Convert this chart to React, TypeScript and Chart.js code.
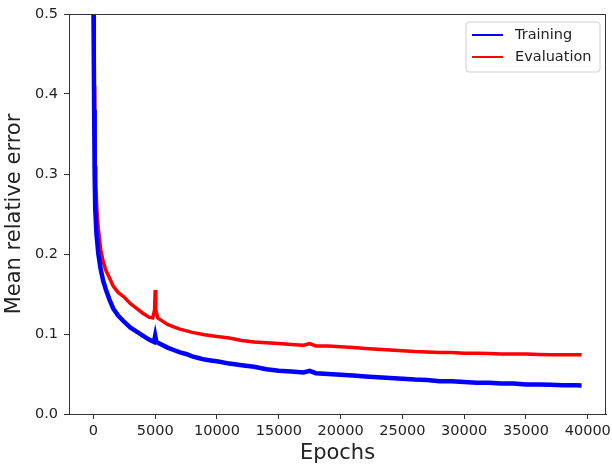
import React, { useEffect, useRef } from "react";
import { Chart, registerables } from "chart.js";

Chart.register(...registerables);

const trainEpochs = [0, 30, 60, 100, 150, 250, 400, 600, 800, 1000, 1300, 1600, 2000, 2500, 3000, 3500, 4000, 4500, 4900, 5000, 5100, 5500, 6000, 6500, 7000, 7500, 8000, 8500, 9000, 9500, 10000, 11000, 12000, 13000, 14000, 15000, 16000, 17000, 17500, 18000, 19000, 20000, 21000, 22000, 23000, 24000, 25000, 26000, 27000, 28000, 29000, 30000, 31000, 32000, 33000, 34000, 35000, 36000, 37000, 38000, 39000, 39500];
const trainValues = [0.52, 0.45, 0.38, 0.3, 0.255, 0.225, 0.2, 0.18, 0.166, 0.156, 0.143, 0.132, 0.123, 0.115, 0.108, 0.103, 0.098, 0.093, 0.09, 0.098, 0.09, 0.087, 0.083, 0.08, 0.077, 0.075, 0.072, 0.07, 0.068, 0.067, 0.066, 0.063, 0.061, 0.059, 0.056, 0.054, 0.053, 0.052, 0.054, 0.051, 0.05, 0.049, 0.048, 0.047, 0.046, 0.045, 0.044, 0.043, 0.0425, 0.041, 0.041, 0.04, 0.039, 0.039, 0.038, 0.038, 0.037, 0.037, 0.0365, 0.036, 0.036, 0.0355];

const evalEpochs = [0, 30, 60, 100, 150, 200, 300, 400, 600, 800, 1000, 1300, 1600, 2000, 2500, 3000, 3500, 4000, 4500, 4800, 4950, 5000, 5050, 5200, 5500, 6000, 6500, 7000, 8000, 9000, 10000, 11000, 12000, 13000, 14000, 15000, 16000, 17000, 17500, 18000, 19000, 20000, 21000, 22000, 23000, 24000, 25000, 26000, 27000, 28000, 29000, 30000, 31000, 32000, 33000, 34000, 35000, 36000, 37000, 38000, 39000, 39500];
const evalValues = [0.6, 0.47, 0.41, 0.36, 0.31, 0.285, 0.25, 0.232, 0.205, 0.19, 0.18, 0.17, 0.16, 0.152, 0.146, 0.138, 0.132, 0.126, 0.121, 0.12, 0.13, 0.155, 0.13, 0.12, 0.117, 0.112, 0.109, 0.106, 0.102, 0.099, 0.097, 0.095, 0.092, 0.09, 0.089, 0.088, 0.087, 0.086, 0.088, 0.085, 0.085, 0.084, 0.083, 0.082, 0.081, 0.08, 0.079, 0.078, 0.0775, 0.077, 0.077, 0.076, 0.076, 0.0755, 0.075, 0.075, 0.075, 0.0745, 0.074, 0.074, 0.074, 0.074];

const xTicks = [0, 5000, 10000, 15000, 20000, 25000, 30000, 35000, 40000];
const seriesNames = ["Training", "Evaluation"];
const seriesColors = ["#0000ff", "#ff0000"];

const FONT = "'DejaVu Sans', sans-serif";

const frameAndLegend = {
  id: "frameAndLegend",
  afterDraw(chart: any) {
    const { ctx, chartArea: a } = chart;
    ctx.save();
    ctx.strokeStyle = "#333333";
    ctx.lineWidth = 1;
    ctx.strokeRect(a.left + 0.5, a.top + 0.5, a.right - a.left - 1, a.bottom - a.top);
    // legend
    const bx = a.right - 140, by = a.top + 8, bw = 134, bh = 50;
    ctx.fillStyle = "rgba(255,255,255,0.8)";
    ctx.strokeStyle = "#d0d0d0";
    ctx.beginPath();
    const r = 3;
    ctx.moveTo(bx + r, by);
    ctx.lineTo(bx + bw - r, by);
    ctx.quadraticCurveTo(bx + bw, by, bx + bw, by + r);
    ctx.lineTo(bx + bw, by + bh - r);
    ctx.quadraticCurveTo(bx + bw, by + bh, bx + bw - r, by + bh);
    ctx.lineTo(bx + r, by + bh);
    ctx.quadraticCurveTo(bx, by + bh, bx, by + bh - r);
    ctx.lineTo(bx, by + r);
    ctx.quadraticCurveTo(bx, by, bx + r, by);
    ctx.fill();
    ctx.stroke();
    ctx.font = `14.5px ${FONT}`;
    ctx.textBaseline = "middle";
    seriesNames.forEach((name, i) => {
      const y = by + 13 + i * 22;
      ctx.strokeStyle = seriesColors[i];
      ctx.lineWidth = 2;
      ctx.beginPath();
      ctx.moveTo(bx + 6, y);
      ctx.lineTo(bx + 37, y);
      ctx.stroke();
      ctx.fillStyle = "#222222";
      ctx.fillText(name, bx + 49, y);
    });
    ctx.restore();
  },
};

export default function App() {
  const ref = useRef<HTMLCanvasElement | null>(null);
  useEffect(() => {
    document.body.style.margin = "0";
    const canvas = ref.current!;
    const chart = new Chart(canvas, {
      type: "line",
      data: {
        datasets: [
          {
            label: seriesNames[0],
            data: trainEpochs.map((x, i) => ({ x, y: trainValues[i] })),
            borderColor: seriesColors[0],
            borderWidth: 4.5,
            pointRadius: 0,
            tension: 0,
          },
          {
            label: seriesNames[1],
            data: evalEpochs.map((x, i) => ({ x, y: evalValues[i] })),
            borderColor: seriesColors[1],
            borderWidth: 3.5,
            pointRadius: 0,
            tension: 0,
          },
        ],
      },
      options: {
        responsive: false,
        animation: false,
        layout: { padding: { top: 14, right: 6, left: 0, bottom: 0 } },
        plugins: { legend: { display: false }, tooltip: { enabled: false } },
        scales: {
          x: {
            type: "linear",
            min: -1975,
            max: 41475,
            afterBuildTicks: (s: any) => {
              s.ticks = xTicks.map((v) => ({ value: v }));
            },
            afterFit: (s: any) => {
              s.height = 53;
              s.paddingRight = 0;
              s.paddingLeft = 0;
            },
            ticks: {
              font: { family: FONT, size: 14.5 },
              color: "#222222",
              padding: 4,
              maxRotation: 0,
              autoSkip: false,
              callback: (v: any) => String(v),
            },
            grid: { drawOnChartArea: false, drawTicks: true, tickLength: 5, color: "#333333" },
            border: { display: true, color: "#333333" },
            title: {
              display: true,
              text: "Epochs",
              font: { family: FONT, size: 21 },
              color: "#222222",
              padding: { top: 0, bottom: 1 },
            },
          },
          y: {
            min: 0,
            max: 0.5,
            afterFit: (s: any) => {
              s.width = 69;
              s.paddingTop = 0;
              s.paddingBottom = 0;
            },
            ticks: {
              stepSize: 0.1,
              font: { family: FONT, size: 14.5 },
              color: "#222222",
              padding: 6,
              callback: (v: any) => Number(v).toFixed(1),
            },
            grid: { drawOnChartArea: false, drawTicks: true, tickLength: 5, color: "#333333" },
            border: { display: true, color: "#333333" },
            title: {
              display: true,
              text: "Mean relative error",
              font: { family: FONT, size: 21 },
              color: "#222222",
              padding: { top: 2, bottom: 0 },
            },
          },
        },
      },
      plugins: [frameAndLegend],
    } as any);
    return () => chart.destroy();
  }, []);
  return (
    <div style={{ position: "absolute", left: 0, top: 0, width: 612, height: 467, background: "#ffffff" }}>
      <canvas ref={ref} width={612} height={467} />
    </div>
  );
}
